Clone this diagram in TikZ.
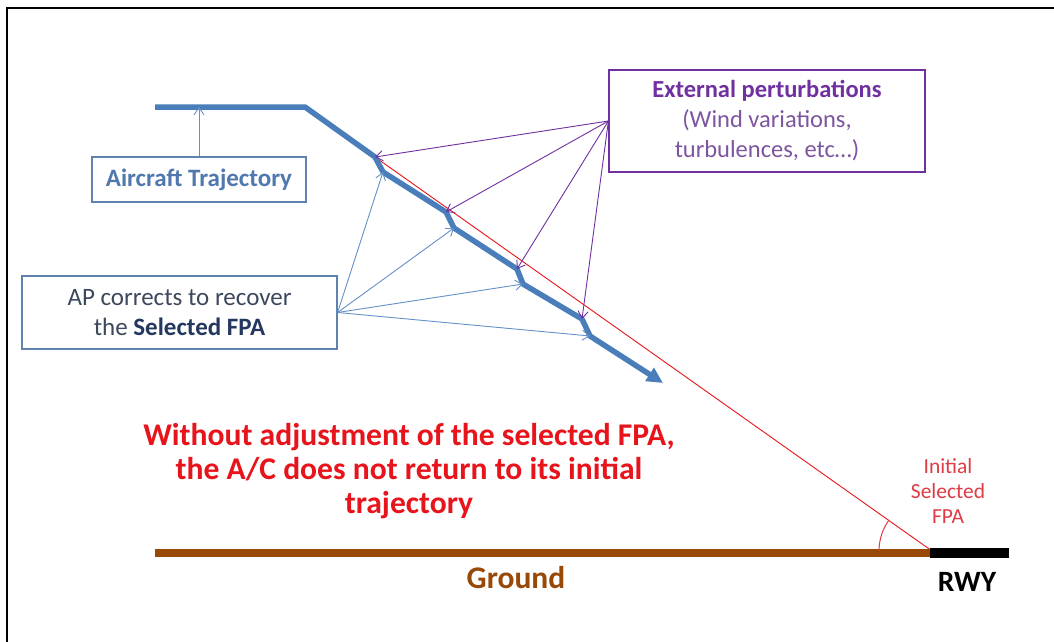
\documentclass[tikz,border=0pt]{standalone}
\usepackage{fontspec}
\setmainfont{Carlito}
\usetikzlibrary{arrows.meta}
\definecolor{trajblue}{RGB}{74,126,187}
\definecolor{apblue}{RGB}{100,145,200}
\definecolor{boxblue}{RGB}{95,130,175}
\definecolor{purp}{RGB}{112,48,160}
\definecolor{purptxt}{RGB}{125,85,160}
\definecolor{groundbrown}{RGB}{152,72,7}
\definecolor{apdark}{RGB}{60,72,92}
\definecolor{apnavy}{RGB}{35,55,95}
\definecolor{acttxt}{RGB}{80,120,175}
\definecolor{fpared}{RGB}{222,60,70}
\definecolor{warnred}{RGB}{232,20,28}
\tikzset{
  traj/.style={trajblue, line width=5.5pt, line join=round, -{Triangle[length=16pt,width=15pt]}},
  openarrow/.style={-{Straight Barb[length=7pt,width=10pt]}},
  aparrow/.style={openarrow, apblue, line width=0.9pt},
  perarrow/.style={openarrow, purp, line width=0.9pt},
  infobox/.style={draw, line width=1.2pt, inner sep=0pt, align=center},
}
\begin{document}
\begin{tikzpicture}[x=1pt,y=-1pt]
\useasboundingbox (0,0) rectangle (1054,642);
\fill[white] (0,0) rectangle (1054,642);
% frame
\draw[line width=2pt] (7,642) -- (7,8) -- (1054,8);

% trajectory points
\coordinate (t0) at (155,107);
\coordinate (t1) at (305,107);
\coordinate (k1a) at (375,157);
\coordinate (k1b) at (383,172);
\coordinate (k2a) at (446,212);
\coordinate (k2b) at (454,228);
\coordinate (k3a) at (517,269);
\coordinate (k3b) at (523,284);
\coordinate (k4a) at (582,319);
\coordinate (k4b) at (590,336);
\coordinate (tend) at (663,383);
\coordinate (gl0) at (155,553);
\coordinate (rwyL) at (930,553);
\coordinate (rwyR) at (1009,553);
\coordinate (fpaend) at (932,551);

% initial selected FPA line
\draw[warnred, line width=0.9pt] (k1a) -- (fpaend);

% ground and runway
\draw[groundbrown, line width=8pt] (gl0) -- (rwyL);
\draw[black, line width=10pt] (rwyL) -- (rwyR);

% angle arc
\draw[fpared, line width=1pt] (fpaend) ++(-53,0) arc[start angle=180, end angle=215.3, radius=53];

% boxes
\node[infobox, draw=boxblue, minimum width=214pt, minimum height=45pt,
      font=\fontsize{25}{30}\selectfont\bfseries, text=acttxt] (act) at (199,179.5) {Aircraft Trajectory};
\node[infobox, draw=boxblue, minimum width=315pt, minimum height=73pt,
      font=\fontsize{25}{30}\selectfont, text=apdark] (ap) at (179.5,312.5)
      {AP corrects to recover\\ the \textbf{\color{apnavy}Selected FPA}};
\node[infobox, draw=purp, minimum width=316pt, minimum height=102pt,
      font=\fontsize{24.5}{30}\selectfont, text=purptxt] (ext) at (767,121)
      {\textbf{\color{purp}External perturbations}\\ (Wind variations,\\ turbulences, etc…)};

% aircraft trajectory
\draw[traj] (t0) -- (t1) -- (k1a) -- (k1b) -- (k2a) -- (k2b) -- (k3a) -- (k3b) -- (k4a) -- (k4b) -- (tend);

% label arrow
\draw[aparrow] (act.north) -- (act.north |- t0);

% perturbation arrows
\foreach \k in {k1a,k2a,k3a,k4a}
  \draw[perarrow] (ext.west) -- (\k);
% AP correction arrows
\foreach \k in {k1b,k2b,k3b,k4b}
  \draw[aparrow] (ap.east) -- (\k);

% texts
\node[font=\fontsize{31.6}{34}\selectfont\bfseries, text=warnred, align=center] (warn) at (409,471)
  {Without adjustment of the selected FPA,\\ the A/C does not return to its initial\\ trajectory};
\node[font=\fontsize{31.5}{34}\selectfont\bfseries, text=groundbrown] (glabel) at (516,578) {Ground};
\node[font=\fontsize{29.5}{34}\selectfont\bfseries, text=black] (rlabel) at (967,582) {RWY};
\node[font=\fontsize{21.5}{25}\selectfont, text=fpared, align=center] (fpa) at (948,491) {Initial\\ Selected\\ FPA};
\end{tikzpicture}
\end{document}
